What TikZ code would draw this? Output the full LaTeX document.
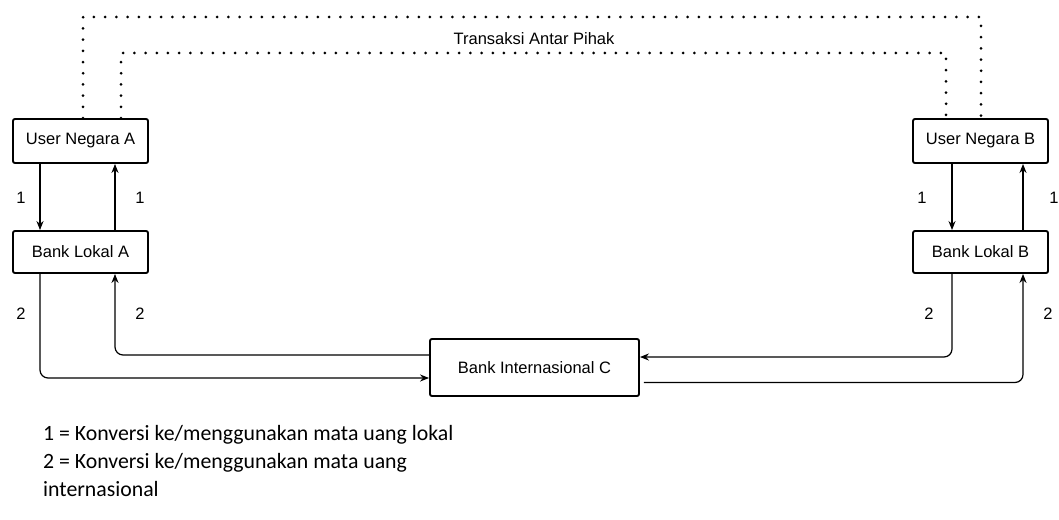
\documentclass[tikz,border=0pt]{standalone}
\usepackage{fontspec}
\setmainfont{Liberation Sans}
\newfontfamily\legendfont{Carlito}
\usetikzlibrary{arrows.meta}

\begin{document}
\begin{tikzpicture}[x=1pt, y=-1pt, >={Stealth[length=9pt, width=7pt]}]
  \tikzstyle{box} = [rectangle, draw, line width=1.9pt, rounded corners=2pt,
                     minimum width=135pt, inner sep=0pt, font=\fontsize{16.5}{19}\selectfont]
  \tikzstyle{flow} = [->, line width=1.2pt, rounded corners=8pt]
  \tikzstyle{link} = [line width=3pt, line cap=round, dash pattern=on 0pt off 11.2pt]
  \tikzstyle{num} = [font=\fontsize{16.5}{19}\selectfont]
\useasboundingbox (0,0) rectangle (1059,519);
\node[box, minimum height=44pt] (ua) at (80.5,141) {User Negara A};
\node[box, minimum height=42pt] (ba) at (80.5,252) {Bank Lokal A};
\node[box, minimum height=44pt] (ub) at (980.5,141) {User Negara B};
\node[box, minimum height=42pt] (bb) at (980.5,252) {Bank Lokal B};
\node[box, minimum width=209pt, minimum height=57pt] (bc) at (534.5,367.5) {Bank Internasional C};
\node[num] (title) at (534,39) {Transaksi Antar Pihak};
\coordinate (outer) at (532,17);
\coordinate (inner) at (532,53);
% transaksi antar pihak
\draw[link] ([xshift=2.5]ua.north) |- (outer) -| ([xshift=0.5]ub.north);
\draw[link] ([xshift=40.5]ua.north) |- (inner) -| ([xshift=-34.5]ub.north);
% konversi lokal
\draw[flow] ([xshift=-40.5]ua.south) -- ([xshift=-40.5]ba.north);
\draw[flow] ([xshift=34.5]ba.north) -- ([xshift=34.5]ua.south);
\draw[flow] ([xshift=-28.5]ub.south) -- ([xshift=-28.5]bb.north);
\draw[flow] ([xshift=42.5]bb.north) -- ([xshift=42.5]ub.south);
% konversi internasional
\draw[flow] ([xshift=-40.5]ba.south) |- ([yshift=-10.5]bc.west);
\draw[flow] ([yshift=12.5]bc.west) -| ([xshift=34.5]ba.south);
\draw[flow] ([xshift=-28.5]bb.south) |- ([yshift=10.5]bc.east);
\draw[flow] ([xshift=4, yshift=-15]bc.east) -| ([xshift=42.5]bb.south);
% angka
\node[num] (n1) at (21,198) {1};
\node[num] (n2) at (140,198) {1};
\node[num] (n3) at (922,198) {1};
\node[num] (n4) at (1054,198) {1};
\node[num] (m1) at (21,314) {2};
\node[num] (m2) at (140,314) {2};
\node[num] (m3) at (929,314) {2};
\node[num] (m4) at (1048,314) {2};
% keterangan
\node[anchor=north west, align=left, inner sep=0pt, font=\legendfont\fontsize{21.8}{28}\selectfont] (legend) at (43,425)
  {1 = Konversi ke/menggunakan mata uang lokal\\
   2 = Konversi ke/menggunakan mata uang\\
   internasional};
\end{tikzpicture}
\end{document}
